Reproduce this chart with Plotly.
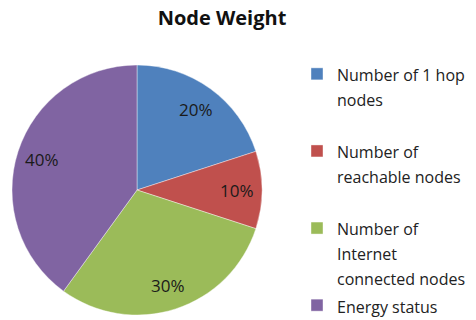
import math
import plotly.graph_objects as go

# Node weight composition
categories = [
    "Number of 1 hop<br>nodes",
    "Number of<br>reachable nodes",
    "Number of<br>Internet<br>connected nodes",
    "Energy status",
]
# blank lines appended to pad the shorter legend entries
legend_pad = [1, 1, 0, 0]
shares = [20, 10, 30, 40]
colors = ["#4F81BD", "#C0504D", "#9BBB59", "#8064A2"]

W, H = 476, 320
pie_x = [12 / W, 262 / W]
pie_y = [5 / H, 255 / H]
LABEL_R = 0.8  # label distance as a fraction of the radius

legend_names = [
    "<span style='font-size:16px'>" + name + "</span>" + "<br> " * pad
    for name, pad in zip(categories, legend_pad)
]

fig = go.Figure(
    go.Pie(
        labels=legend_names,
        values=shares,
        sort=False,
        direction="clockwise",
        rotation=0,
        marker=dict(colors=colors, line=dict(color="rgba(255,255,255,0.5)", width=0.8)),
        textinfo="none",
        domain=dict(x=pie_x, y=pie_y),
        hoverinfo="percent",
    )
)

# percentage labels at each slice's mid-angle
cx = (pie_x[0] + pie_x[1]) / 2
cy = (pie_y[0] + pie_y[1]) / 2
radius_px = min((pie_x[1] - pie_x[0]) * W, (pie_y[1] - pie_y[0]) * H) / 2
total = sum(shares)
start = 0.0
for v in shares:
    mid = (start + v / 2) / total * 2 * math.pi
    start += v
    dx = LABEL_R * radius_px * math.sin(mid)
    dy = LABEL_R * radius_px * math.cos(mid)
    fig.add_annotation(
        x=cx + dx / W,
        y=cy + dy / H,
        xref="paper",
        yref="paper",
        text=f"{v / total:.0%}",
        showarrow=False,
        xanchor="center",
        yanchor="middle",
        font=dict(family="Open Sans", size=17, color="#1a1a1a"),
    )

fig.update_layout(
    width=W,
    height=H,
    margin=dict(l=0, r=0, t=0, b=0, autoexpand=False),
    paper_bgcolor="white",
    plot_bgcolor="white",
    title=dict(
        text="<b>Node Weight</b>",
        x=222 / W,
        xanchor="center",
        y=1 - 18 / H,
        yanchor="middle",
        font=dict(family="Open Sans", size=20, color="#111"),
    ),
    legend=dict(
        x=297 / W,
        xanchor="left",
        y=1 - 55 / H,
        yanchor="top",
        valign="top",
        font=dict(family="Open Sans", size=19, color="#222"),
        itemwidth=30,
        bgcolor="rgba(0,0,0,0)",
    ),
    showlegend=True,
)

fig.write_html("out.html")
